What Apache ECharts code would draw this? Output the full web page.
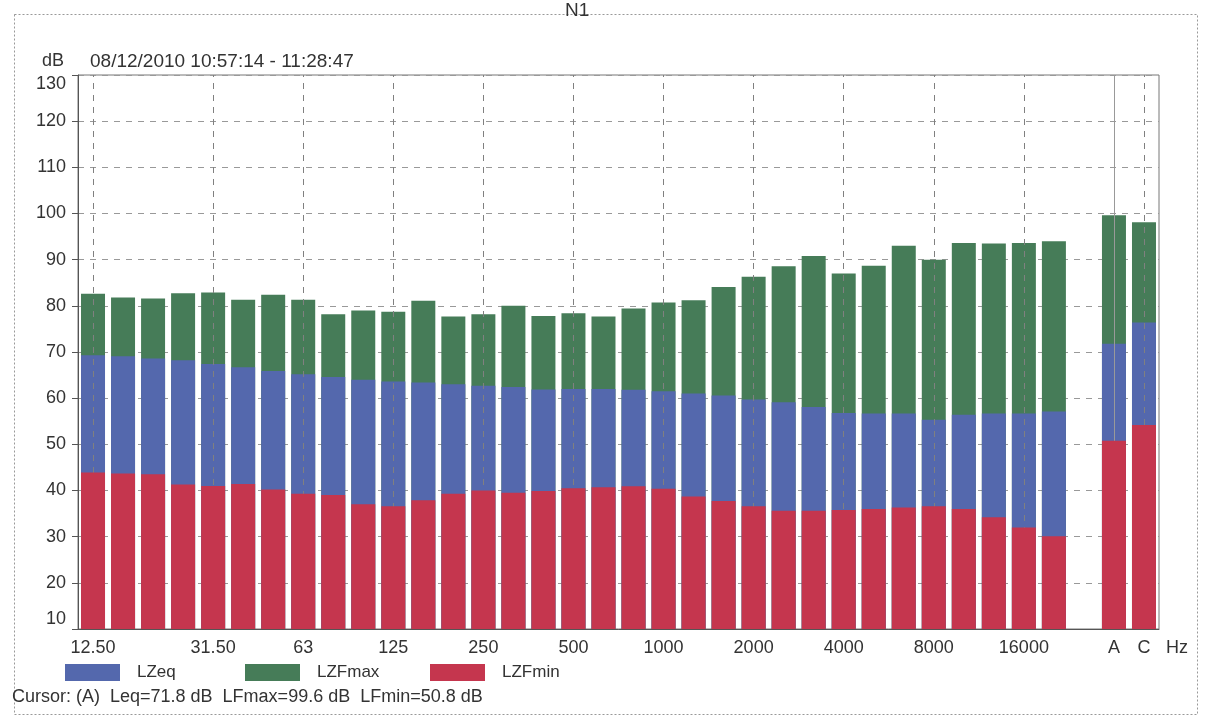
<!DOCTYPE html>
<html>
<head>
<meta charset="utf-8">
<script src="https://cdn.jsdelivr.net/npm/echarts@6/dist/echarts.min.js"></script>
<style>
html,body{margin:0;padding:0;background:#fff;}
#chart{width:1207px;height:721px;}
</style>
</head>
<body>
<div id="chart"></div>
<script>
// Categories: 1/3-octave bands (Hz), a blank slot, then A and C totals
const categories = ['12.5','16','20','25','31.5','40','50','63','80','100','125','160','200','250','315','400','500','630','800','1000','1250','1600','2000','2500','3150','4000','5000','6300','8000','10000','12500','16000','20000','gap','A','C'];
const xTickLabels = ['12.50','','','','31.50','','','63','','','125','','','250','','','500','','','1000','','','2000','','','4000','','','8000','','','16000','','','A','C'];
const gridCategories = ['12.5','31.5','63','125','250','500','1000','2000','4000','8000','16000','C'];
const yTicks = [10,20,30,40,50,60,70,80,90,100,110,120,130];

const LZFmax = [82.6,81.8,81.6,82.7,82.9,81.3,82.4,81.3,78.2,79.0,78.7,81.1,77.7,78.2,80.0,77.8,78.4,77.7,79.4,80.7,81.2,84.1,86.3,88.6,90.8,87.0,88.7,93.0,90.0,93.6,93.5,93.6,94.0,null,99.6,98.1];
const LZeq   = [69.3,69.1,68.6,68.2,67.4,66.7,65.9,65.2,64.6,64.0,63.6,63.4,63.0,62.7,62.4,61.9,62.0,62.0,61.8,61.5,61.0,60.6,59.7,59.1,58.1,56.8,56.7,56.7,55.3,56.4,56.7,56.7,57.1,null,71.8,76.4];
const LZFmin = [43.9,43.7,43.5,41.3,41.0,41.4,40.2,39.3,39.0,37.0,36.6,37.9,39.3,40.0,39.5,39.9,40.5,40.7,40.9,40.4,38.7,37.7,36.6,35.6,35.6,35.8,36.0,36.3,36.6,36.0,34.2,32.0,30.1,null,50.8,54.2];

const titleText = 'N1';
const unitText = 'dB';
const dateText = '08/12/2010 10:57:14 - 11:28:47';
const cursorText = 'Cursor: (A)  Leq=71.8 dB  LFmax=99.6 dB  LFmin=50.8 dB';

const FONT = '"Liberation Sans", Arial, sans-serif';
const C_GREEN = '#467c58';
const C_BLUE = '#5468ad';
const C_RED = '#c5364e';

const chart = echarts.init(document.getElementById('chart'));
const legendBase = {
  orient: 'horizontal', icon: 'rect', itemWidth: 55, itemHeight: 17, padding: 0,
  selectedMode: false, top: 664,
  textStyle: { fontFamily: FONT, fontSize: 17, color: '#333', padding: [0,0,0,12] }
};
const yMin = yTicks[0], yMax = yTicks[yTicks.length - 1];
const option = {
  backgroundColor: '#ffffff',
  animation: false,
  title: {
    text: titleText, left: 565, top: 1, padding: 0,
    textStyle: { fontFamily: FONT, fontSize: 19, fontWeight: 'normal', color: '#333' }
  },
  legend: [
    Object.assign({}, legendBase, { data: ['LZeq'], left: 65 }),
    Object.assign({}, legendBase, { data: ['LZFmax'], left: 245 }),
    Object.assign({}, legendBase, { data: ['LZFmin'], left: 430 })
  ],
  grid: { left: 78, right: 48, top: 75, bottom: 92, show: true, borderColor: '#777', borderWidth: 1, containLabel: false },
  xAxis: {
    type: 'category', data: categories,
    boundaryGap: true,
    name: 'Hz', nameLocation: 'end', nameGap: 7,
    nameTextStyle: { fontFamily: FONT, fontSize: 18, color: '#333', verticalAlign: 'top', padding: [10,0,0,0] },
    axisLine: { lineStyle: { color: '#555' } },
    axisTick: { show: false },
    axisLabel: {
      interval: 0, margin: 10, fontFamily: FONT, fontSize: 18, color: '#333',
      formatter: function (v, i) { return xTickLabels[i]; }
    },
    splitLine: { show: false }
  },
  yAxis: {
    type: 'value', min: yMin, max: yMax, interval: 10,
    axisLine: { show: true, lineStyle: { color: '#555' } },
    axisTick: { show: true, length: 6, lineStyle: { color: '#555' } },
    axisLabel: {
      margin: 12, fontFamily: FONT, fontSize: 18, color: '#333',
      formatter: function (v) {
        if (v === yMax) return '{top|' + v + '}';
        if (v === yMin) return '{bot|' + v + '}';
        return String(v);
      },
      rich: {
        top: { fontFamily: FONT, fontSize: 18, color: '#333', padding: [18, 0, 0, 0] },
        bot: { fontFamily: FONT, fontSize: 18, color: '#333', padding: [0, 0, 20, 0] }
      }
    },
    splitLine: { show: true, lineStyle: { type: [6, 6], color: '#999', width: 1 } }
  },
  series: [
    {
      name: 'grid-v', type: 'line', data: categories.map(() => null), z: 1,
      silent: true, symbol: 'none',
      markLine: {
        silent: true, symbol: ['none', 'none'], label: { show: false },
        lineStyle: { type: [6, 6], color: '#808080', width: 1 },
        data: gridCategories.map(c => ({ xAxis: c })).concat([
          { xAxis: 'A', lineStyle: { type: 'solid', color: '#999', width: 1 } }
        ])
      }
    },
    { name: 'LZFmax', type: 'bar', data: LZFmax, barWidth: 24, barGap: '-100%', z: 3, itemStyle: { color: C_GREEN } },
    { name: 'LZeq', type: 'bar', data: LZeq, barWidth: 24, barGap: '-100%', z: 4, itemStyle: { color: C_BLUE } },
    { name: 'LZFmin', type: 'bar', data: LZFmin, barWidth: 24, barGap: '-100%', z: 5, itemStyle: { color: C_RED } }
  ],
  graphic: [
    { type: 'rect', left: 12, top: 12, z: -1, silent: true,
      shape: { width: 1183, height: 700 },
      style: { fill: 'none', stroke: '#999', lineWidth: 1, lineDash: [2, 2] } },
    { type: 'text', left: 42, top: 52, style: { text: unitText, font: '18px ' + FONT, fill: '#333' } },
    { type: 'text', left: 90, top: 52, style: { text: dateText, font: '19px ' + FONT, fill: '#333' } },
    { type: 'text', left: 12, top: 688, style: { text: cursorText, font: '18px ' + FONT, fill: '#333' } }
  ]
};
chart.setOption(option);
</script>
</body>
</html>
